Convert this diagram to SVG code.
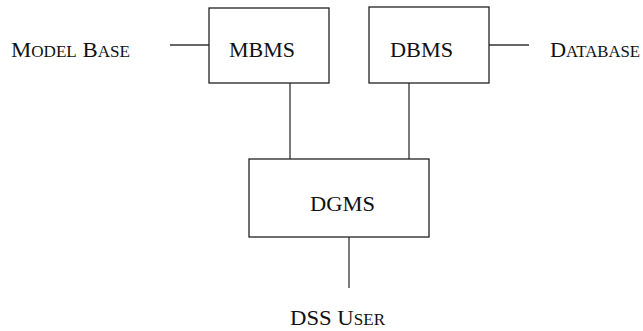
<svg xmlns="http://www.w3.org/2000/svg" width="643" height="331" viewBox="0 0 643 331">
  <style>
    .box { fill: #fff; stroke: #222; stroke-width: 1.3; }
    .wire { stroke: #333; stroke-width: 1.3; fill: none; }
    text { font-family: "Liberation Serif", "DejaVu Serif", serif; font-size: 22px; fill: #111; }
    .sc { font-size: 16.5px; }
  </style>
  <rect width="643" height="331" fill="#fff"/>
  <g id="connectors">
    <line class="wire" x1="170" y1="45" x2="209" y2="45"/>
    <line class="wire" x1="489" y1="45" x2="529" y2="45"/>
    <line class="wire" x1="290" y1="83" x2="290" y2="159"/>
    <line class="wire" x1="409" y1="83" x2="409" y2="159"/>
    <line class="wire" x1="349" y1="237" x2="349" y2="288"/>
  </g>
  <g id="mbms">
    <rect class="box" x="209" y="8" width="120" height="75"/>
    <text x="229" y="57" textLength="66" lengthAdjust="spacingAndGlyphs">MBMS</text>
  </g>
  <g id="dbms">
    <rect class="box" x="369" y="7" width="120" height="76"/>
    <text x="390" y="57" textLength="63" lengthAdjust="spacingAndGlyphs">DBMS</text>
  </g>
  <g id="dgms">
    <rect class="box" x="249" y="159" width="180" height="78"/>
    <text x="310" y="211" textLength="65" lengthAdjust="spacingAndGlyphs">DGMS</text>
  </g>
  <g id="model-base">
    <text x="11" y="57" textLength="119" lengthAdjust="spacingAndGlyphs">M<tspan class="sc">ODEL</tspan> B<tspan class="sc">ASE</tspan></text>
  </g>
  <g id="database">
    <text x="550" y="57" textLength="90" lengthAdjust="spacingAndGlyphs">D<tspan class="sc">ATABASE</tspan></text>
  </g>
  <g id="dss-user">
    <text x="290" y="325" textLength="95" lengthAdjust="spacingAndGlyphs">DSS U<tspan class="sc">SER</tspan></text>
  </g>
</svg>
